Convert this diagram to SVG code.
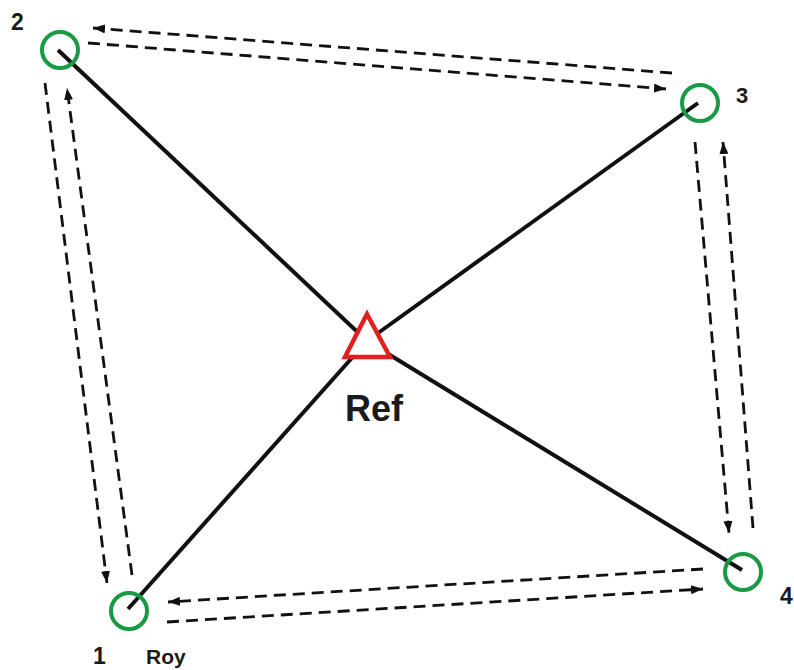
<svg xmlns="http://www.w3.org/2000/svg" width="794" height="670" viewBox="0 0 794 670">
<style>
.solid{stroke:#111;stroke-width:4;fill:none;stroke-linecap:butt}
.dash{stroke:#111;stroke-width:2.8;fill:none;stroke-dasharray:12 7}
.stn{fill:none;stroke:#1a9a45;stroke-width:4}
.lbl{font-family:"Liberation Sans",Arial,sans-serif;font-weight:bold;fill:#1a1a1a}
</style>
<defs>
<marker id="ah" viewBox="0 0 12 9" refX="12" refY="4.5" markerWidth="12" markerHeight="9" markerUnits="userSpaceOnUse" orient="auto">
<path d="M0,0 L12,4.5 L0,9 Z" fill="#111"/>
</marker>
</defs>
<rect width="794" height="670" fill="#fff"/>
<g id="connectors">
<line class="solid" x1="58" y1="50" x2="367" y2="341"/>
<line class="solid" x1="698" y1="103" x2="367" y2="341"/>
<line class="solid" x1="128" y1="609" x2="367" y2="341"/>
<line class="solid" x1="742" y1="570" x2="367" y2="341"/>
<line class="dash" x1="672" y1="73" x2="93" y2="28" marker-end="url(#ah)"/>
<line class="dash" x1="88" y1="43" x2="666" y2="89" marker-end="url(#ah)"/>
<line class="dash" x1="695" y1="142" x2="729" y2="533" marker-end="url(#ah)"/>
<line class="dash" x1="753" y1="528" x2="723" y2="142" marker-end="url(#ah)"/>
<line class="dash" x1="703" y1="569" x2="168" y2="602" marker-end="url(#ah)"/>
<line class="dash" x1="167" y1="622" x2="703" y2="589" marker-end="url(#ah)"/>
<line class="dash" x1="45" y1="83" x2="107" y2="583" marker-end="url(#ah)"/>
<line class="dash" x1="132" y1="575" x2="67" y2="88" marker-end="url(#ah)"/>
</g>
<g id="node2"><circle class="stn" cx="60" cy="50" r="18"/><text class="lbl" x="11" y="30" font-size="23">2</text></g>
<g id="node3"><circle class="stn" cx="700" cy="103" r="18"/><text class="lbl" x="736" y="103" font-size="22">3</text></g>
<g id="node4"><circle class="stn" cx="743" cy="572" r="18"/><text class="lbl" x="780" y="604" font-size="23">4</text></g>
<g id="node1"><circle class="stn" cx="129" cy="611" r="18"/><text class="lbl" x="93" y="664" font-size="23">1</text><text class="lbl" x="146" y="664" font-size="21">Roy</text></g>
<g id="ref"><polygon points="367,314 345,357 390,357" fill="#fff" stroke="#e02020" stroke-width="4.5" stroke-linejoin="miter"/><text class="lbl" x="345" y="421" font-size="36">Ref</text></g>
</svg>
